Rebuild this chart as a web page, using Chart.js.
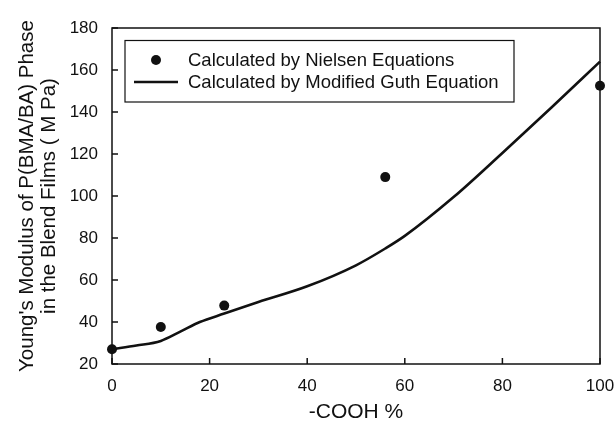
<!DOCTYPE html>
<html lang="en">
  <head>
    <meta charset="UTF-8"/>
    <title>Young's Modulus vs -COOH %</title>
    <style>
      body { margin: 0; background: #fff; }
    </style>
  </head>
  <body>
  <div>
    <canvas id="myChart" width="616" height="425"></canvas>
  </div>
  <script src="https://cdn.jsdelivr.net/npm/chart.js"></script>
  <script>
    // Nielsen equation points
    var nielsenX = [0, 10, 23, 56, 100];
    var nielsenY = [27, 37.6, 47.8, 109, 152.5];
    // Modified Guth equation curve
    var guthX = [0, 5, 10, 14, 18, 23, 30, 40, 50, 56, 60, 70, 80, 90, 100];
    var guthY = [27, 28.8, 31, 35.4, 40, 44, 49.5, 57, 67, 75, 81, 99.5, 120.5, 142, 164];
    var xTicks = [0, 20, 40, 60, 80, 100];
    var yTicks = [20, 40, 60, 80, 100, 120, 140, 160, 180];

    var fontFamily = '"Liberation Sans", Arial, Helvetica, sans-serif';
    var ink = '#111';

    function toPoints(xs, ys) {
      return xs.map((x, i) => ({x: x, y: ys[i]}));
    }

    // frame around the plot plus inward tick marks on left and bottom
    const framePlugin = {
      id: 'frame',
      afterDraw(chart) {
        const ctx = chart.ctx;
        const a = chart.chartArea;
        const xs = chart.scales.x, ys = chart.scales.y;
        ctx.save();
        ctx.strokeStyle = ink;
        ctx.lineWidth = 1.5;
        ctx.strokeRect(a.left, a.top, a.right - a.left, a.bottom - a.top);
        ctx.beginPath();
        xTicks.forEach((v) => {
          const px = xs.getPixelForValue(v);
          ctx.moveTo(px, a.bottom);
          ctx.lineTo(px, a.bottom - 6);
        });
        yTicks.forEach((v) => {
          const py = ys.getPixelForValue(v);
          ctx.moveTo(a.left, py);
          ctx.lineTo(a.left + 6, py);
        });
        ctx.stroke();
        ctx.restore();
      }
    };

    // boxed legend in the upper-left of the plot
    const boxLegend = {
      id: 'boxLegend',
      afterDraw(chart) {
        const ctx = chart.ctx;
        const sets = chart.data.datasets;
        const box = {left: 125, top: 40.5, right: 514, bottom: 102};
        ctx.save();
        ctx.fillStyle = '#fff';
        ctx.fillRect(box.left, box.top, box.right - box.left, box.bottom - box.top);
        ctx.strokeStyle = ink;
        ctx.lineWidth = 1.2;
        ctx.strokeRect(box.left, box.top, box.right - box.left, box.bottom - box.top);
        ctx.font = '18.5px ' + fontFamily;
        ctx.textBaseline = 'middle';
        ctx.textAlign = 'left';
        const rows = [60, 82];
        sets.forEach((ds, i) => {
          const y = rows[i];
          ctx.fillStyle = ink;
          ctx.strokeStyle = ink;
          if (ds.showLine) {
            ctx.lineWidth = ds.borderWidth;
            ctx.beginPath();
            ctx.moveTo(134, y);
            ctx.lineTo(178, y);
            ctx.stroke();
          } else {
            ctx.beginPath();
            ctx.arc(156, y, ds.pointRadius, 0, Math.PI * 2);
            ctx.fill();
          }
          ctx.fillText(ds.label, 188, y + 1);
        });
        ctx.restore();
      }
    };

    const data = {
      datasets: [{
        label: 'Calculated by Nielsen Equations',
        data: toPoints(nielsenX, nielsenY),
        showLine: false,
        pointRadius: 5,
        pointBackgroundColor: ink,
        pointBorderColor: ink,
        pointBorderWidth: 0,
        clip: false
      },
      {
        label: 'Calculated by Modified Guth Equation',
        data: toPoints(guthX, guthY),
        showLine: true,
        borderColor: ink,
        borderWidth: 2.6,
        pointRadius: 0,
        cubicInterpolationMode: 'monotone',
        clip: false
      }]
    };

    const config = {
      type: 'scatter',
      data,
      options: {
        responsive: false,
        animation: false,
        layout: { padding: { top: 28, right: 16, left: 0, bottom: 0 } },
        plugins: {
          legend: { display: false },
          tooltip: { enabled: false }
        },
        scales: {
          x: {
            type: 'linear',
            min: 0,
            max: 100,
            grid: { display: false, drawTicks: false },
            border: { display: false },
            ticks: {
              stepSize: 20,
              padding: 12,
              color: ink,
              font: { family: fontFamily, size: 17 }
            },
            title: {
              display: true,
              text: '-COOH %',
              color: ink,
              font: { family: fontFamily, size: 21, lineHeight: 1 },
              padding: { top: 0, bottom: 2.5 }
            },
            afterFit(scale) {
              scale.height = 61;
              // let the end labels hang past the plot edges
              scale.paddingLeft = 0;
              scale.paddingRight = 0;
            }
          },
          y: {
            type: 'linear',
            min: 20,
            max: 180,
            grid: { display: false, drawTicks: false },
            border: { display: false },
            ticks: {
              stepSize: 20,
              padding: 14,
              color: ink,
              font: { family: fontFamily, size: 17 }
            },
            title: {
              display: true,
              text: ["Young's Modulus of P(BMA/BA) Phase", 'in the Blend Films ( M Pa)'],
              color: ink,
              font: { family: fontFamily, size: 20.5, lineHeight: 1.07 },
              padding: { top: 16, bottom: 0 }
            },
            afterFit(scale) {
              scale.width = 112;
              scale.paddingTop = 0;
              scale.paddingBottom = 0;
            }
          }
        }
      },
      plugins: [framePlugin, boxLegend]
    };

    var myChart = new Chart(
      document.getElementById('myChart'),
      config
    );
  </script>
  </body>
</html>
